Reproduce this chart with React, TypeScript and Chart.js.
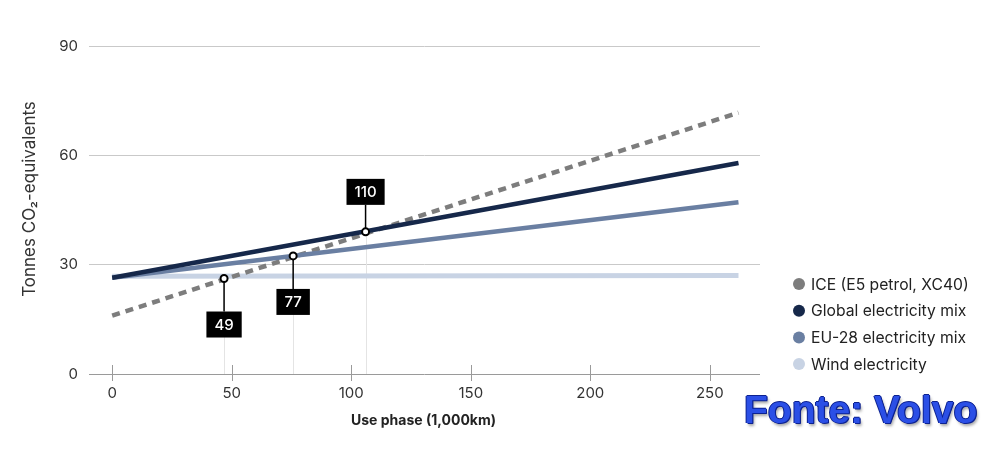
import React, { useEffect, useRef } from "react";
import { Chart, registerables } from "chart.js";

Chart.register(...registerables);

// ---- data ----
const useKm = [0, 262];
const iceValues = [16.0, 71.7];
const globalValues = [26.4, 57.9];
const euValues = [26.4, 47.1];
const windValues = [26.8, 27.0];

const seriesNames = [
  "ICE (E5 petrol, XC40)",
  "Global electricity mix",
  "EU-28 electricity mix",
  "Wind electricity",
];
const seriesColors = ["#7d7d7d", "#16284a", "#6a7fa2", "#c8d3e4"];

const xTickValues = [0, 50, 100, 150, 200, 250];
const yTickValues = [0, 30, 60, 90];

const breakEvenKm = [46.8, 75.7, 106];
const breakEvenCo2 = [26.2, 32.4, 39.0];
const breakEvenLabels = ["49", "77", "110"];
const breakEvenAbove = [false, false, true];

const xTitle = "Use phase (1,000km)";
const yTitle = "Tonnes CO₂-equivalents";
const sourceText = "Fonte: Volvo";

const FONT = "Inter, 'DejaVu Sans', sans-serif";

const toPoints = (ys: number[]) => ys.map((y, i) => ({ x: useKm[i], y }));

const overlayPlugin = {
  id: "overlay",
  beforeDatasetsDraw(chart: any) {
    const { ctx, chartArea, scales } = chart;
    const xs = scales.x;
    const ys = scales.y;
    ctx.save();
    ctx.strokeStyle = "#e4e4e4";
    ctx.lineWidth = 1;
    breakEvenKm.forEach((km, i) => {
      const px = Math.round(xs.getPixelForValue(km)) + 0.5;
      const py = ys.getPixelForValue(breakEvenCo2[i]);
      ctx.beginPath();
      ctx.moveTo(px, py);
      ctx.lineTo(px, chartArea.bottom);
      ctx.stroke();
    });
    // x tick marks
    ctx.strokeStyle = "#9a9a9a";
    xTickValues.forEach((v) => {
      const px = Math.round(xs.getPixelForValue(v)) + 0.5;
      ctx.beginPath();
      ctx.moveTo(px, chartArea.bottom - 9);
      ctx.lineTo(px, chartArea.bottom + 7);
      ctx.stroke();
    });
    ctx.restore();
  },
  afterDraw(chart: any) {
    const { ctx, chartArea, scales } = chart;
    const xs = scales.x;
    const ys = scales.y;
    ctx.save();
    // break-even markers
    breakEvenKm.forEach((km, i) => {
      const px = xs.getPixelForValue(km);
      const py = ys.getPixelForValue(breakEvenCo2[i]);
      const above = breakEvenAbove[i];
      const gap = above ? 27 : 33;
      const boxH = 26;
      ctx.font = `500 15px ${FONT}`;
      const tw = ctx.measureText(breakEvenLabels[i]).width;
      const boxW = tw + 16;
      const lineEnd = above ? py - gap : py + gap;
      ctx.strokeStyle = "#000";
      ctx.lineWidth = 1.5;
      ctx.beginPath();
      ctx.moveTo(px, py);
      ctx.lineTo(px, lineEnd);
      ctx.stroke();
      const boxTop = above ? lineEnd - boxH : lineEnd;
      ctx.fillStyle = "#000";
      ctx.fillRect(px - boxW / 2, boxTop, boxW, boxH);
      ctx.fillStyle = "#fff";
      ctx.textAlign = "center";
      ctx.textBaseline = "middle";
      ctx.fillText(breakEvenLabels[i], px, boxTop + boxH / 2 + 1);
      ctx.beginPath();
      ctx.arc(px, py, 3.5, 0, Math.PI * 2);
      ctx.fillStyle = "#fff";
      ctx.fill();
      ctx.lineWidth = 2;
      ctx.strokeStyle = "#000";
      ctx.stroke();
    });
    // legend
    const legX = 799;
    const legY0 = 284;
    const legStep = 26.7;
    ctx.font = `15.7px ${FONT}`;
    ctx.textAlign = "left";
    ctx.textBaseline = "middle";
    seriesNames.forEach((name, i) => {
      const y = legY0 + i * legStep;
      ctx.beginPath();
      ctx.arc(legX, y, 6, 0, Math.PI * 2);
      ctx.fillStyle = seriesColors[i];
      ctx.fill();
      ctx.fillStyle = "#222";
      ctx.fillText(name, 811, y + 1);
    });
    // axis titles
    ctx.fillStyle = "#222";
    ctx.font = `bold 14px ${FONT}`;
    ctx.textAlign = "center";
    ctx.textBaseline = "middle";
    ctx.fillText(xTitle, (chartArea.left + chartArea.right) / 2 - 1, 421);
    ctx.save();
    ctx.translate(30, 199);
    ctx.rotate(-Math.PI / 2);
    ctx.font = `17px ${FONT}`;
    ctx.fillStyle = "#333";
    ctx.fillText(yTitle, 0, 0);
    ctx.restore();
    ctx.restore();
  },
};

export default function App() {
  const ref = useRef<HTMLCanvasElement>(null);
  useEffect(() => {
    if (!ref.current) return;
    const chart = new Chart(ref.current, {
      type: "line",
      data: {
        datasets: [
          {
            label: seriesNames[1],
            data: toPoints(globalValues),
            borderColor: seriesColors[1],
            borderWidth: 4.5,
            pointRadius: 0,
            order: 1,
          },
          {
            label: seriesNames[2],
            data: toPoints(euValues),
            borderColor: seriesColors[2],
            borderWidth: 4.5,
            pointRadius: 0,
            order: 2,
          },
          {
            label: seriesNames[0],
            data: toPoints(iceValues),
            borderColor: seriesColors[0],
            borderWidth: 4.5,
            borderDash: [8, 6],
            pointRadius: 0,
            order: 3,
          },
          {
            label: seriesNames[3],
            data: toPoints(windValues),
            borderColor: seriesColors[3],
            borderWidth: 5,
            pointRadius: 0,
            order: 4,
          },
        ],
      },
      options: {
        responsive: false,
        animation: false,
        devicePixelRatio: 1,
        layout: { padding: { top: 46, right: 240, left: 0, bottom: 0 } },
        plugins: { legend: { display: false }, tooltip: { enabled: false } },
        scales: {
          x: {
            type: "linear",
            min: -9.7,
            max: 271,
            afterBuildTicks: (s: any) => {
              s.ticks = xTickValues.map((v) => ({ value: v }));
            },
            afterFit: (s: any) => {
              s.height = 76;
            },
            grid: { display: false },
            border: { display: false },
            ticks: {
              color: "#333",
              padding: 2,
              font: { family: FONT, size: 15 },
              maxRotation: 0,
            },
          },
          y: {
            min: 0,
            max: 90,
            afterBuildTicks: (s: any) => {
              s.ticks = yTickValues.map((v) => ({ value: v }));
            },
            afterFit: (s: any) => {
              s.width = 89;
            },
            grid: {
              color: (c: any) => (c.tick && c.tick.value === 0 ? "#9a9a9a" : "#c9c9c9"),
              drawTicks: false,
              lineWidth: 1,
            },
            border: { display: false },
            ticks: {
              color: "#333",
              padding: 11,
              font: { family: FONT, size: 15 },
            },
          },
        },
      },
      plugins: [overlayPlugin],
    } as any);
    return () => chart.destroy();
  }, []);

  return (
    <div style={{ position: "absolute", left: 0, top: 0, width: 1000, height: 450, background: "#fff" }}>
      <canvas ref={ref} width={1000} height={450} style={{ width: 1000, height: 450, display: "block" }} />
      <div
        style={{
          position: "absolute",
          left: 744,
          top: 390,
          fontFamily: "'Liberation Sans', Arial, sans-serif",
          fontWeight: "bold",
          fontSize: 39,
          lineHeight: "39px",
          color: "#2b4fe6",
          whiteSpace: "nowrap",
          textShadow:
            "1px 1px 0 #0d2290, -1px 0 0 #0d2290, 0 -1px 0 #0d2290, 1px 0 0 #0d2290, 2px 3px 3px rgba(0,0,0,0.35)",
        }}
      >
        {sourceText}
      </div>
    </div>
  );
}
